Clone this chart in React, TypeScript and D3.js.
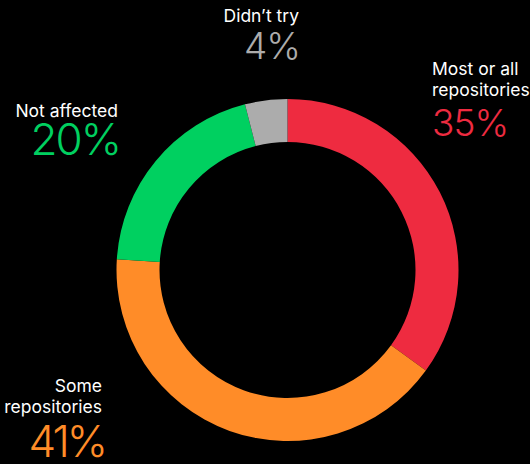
import React from 'react';
import * as d3 from 'd3';

const categories = ['Most or all repositories', 'Some repositories', 'Not affected', "Didn\u2019t try"];
const values = [35, 41, 20, 4];
const colors = ['#ee2b40', '#ff8c28', '#00d060', '#acacac'];

// label lines + where each label sits (layout only)
const labelLines = [['Most or all', 'repositories'], ['Some', 'repositories'], ['Not affected'], ["Didn\u2019t try"]];
const labelLayout = [
  { x: 432, y: 75, anchor: 'start', pctSize: 37, pctY: 135.5, spacing: -1 },
  { x: 102, y: 392, anchor: 'end', pctSize: 44, pctY: 457, spacing: -3 },
  { x: 118, y: 117, anchor: 'end', pctSize: 44, pctY: 155, spacing: -2 },
  { x: 299, y: 22, anchor: 'end', pctSize: 37, pctY: 58.5, spacing: -1 },
];

const width = 530;
const height = 464;
const cx = 287.5;
const cy = 270;
const outerR = 171;
const innerR = 128;

const App = () => {
  const data = categories.map((c, i) => ({ name: c, value: values[i], color: colors[i] }));
  const pie = d3.pie<any>().sort(null).value((d) => d.value);
  const arc = d3.arc<any>().innerRadius(innerR).outerRadius(outerR);
  const slices = pie(data);

  return (
    <div style={{ position: 'fixed', left: 0, top: 0 }}>
      <svg width={width} height={height} style={{ display: 'block', fontFamily: 'Inter, sans-serif' }}>
        <rect width={width} height={height} fill="#000" />
        <g transform={`translate(${cx},${cy})`}>
          {slices.map((s, i) => (
            <path key={i} d={arc(s) || ''} fill={s.data.color} />
          ))}
        </g>
        {data.map((d, i) => {
          const l = labelLayout[i];
          // trailing letter-spacing pushes end-anchored text left, undo it
          const px = l.anchor === 'end' ? l.x - l.spacing : l.x;
          return (
            <g key={d.name} textAnchor={l.anchor}>
              {labelLines[i].map((line, j) => (
                <text key={j} x={l.x} y={l.y + j * 21} fill="#fff" fontSize={17.5} fontWeight={400}>
                  {line}
                </text>
              ))}
              <text
                x={px}
                y={l.pctY}
                fill={d.color}
                fontSize={l.pctSize}
                fontWeight={300}
                letterSpacing={l.spacing}
              >
                {d.value}%
              </text>
            </g>
          );
        })}
      </svg>
    </div>
  );
};

export default App;
